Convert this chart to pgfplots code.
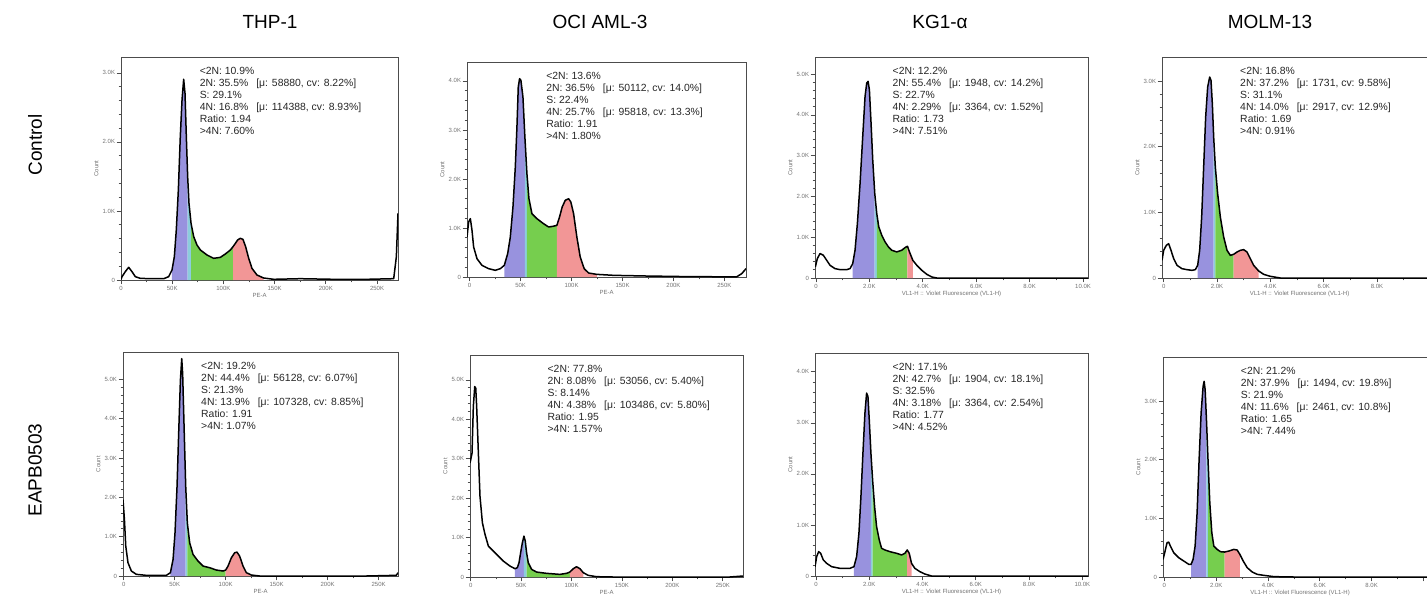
\documentclass[border=0pt]{standalone}
\usepackage{fontspec}
\setmainfont{Liberation Sans}
\usepackage{pgfplots}
\usepackage{pgfplotstable}
\pgfplotsset{compat=1.18}

\definecolor{gone}{RGB}{152,146,222}
\definecolor{sph}{RGB}{118,206,78}
\definecolor{gtwo}{RGB}{242,150,150}
\definecolor{ovl}{RGB}{140,205,220}

% histograms (x in PE-A / VL1-H units, y in counts)
\pgfplotstableread{
x y
0 10
1 48
4.2 121
7.5 184
10.7 121
14 48
18.9 24
28.6 19
41.7 19
46.5 48
49.8 145
52.1 338
54 725
56 1304
57.9 2077
59.6 2608
61.2 2908
62.5 2705
63.8 2077
65.1 1497
66.4 1111
68.4 821
71 628
74.2 507
77.5 435
84 362
90.5 314
97 328
101.9 377
106.8 435
109.4 483
111.7 531
113.9 580
116.5 604
119.1 589
121.7 483
124.7 314
127.9 169
132.8 72
139.3 29
149.1 10
175.1 19
207.7 10
240.2 10
266.3 19
268.9 338
270.5 966
}\thpc

\pgfplotstableread{
x y
-2.6 816
-1 1122
0.7 1190
2.3 952
3.9 612
7.2 374
12.1 238
18.6 170
25.2 136
30.1 170
34 238
37.3 476
39.9 816
42.5 1428
44.8 2244
46.4 3060
47.7 3876
49 4046
50.3 4012
52.3 3672
54.2 2856
56.2 2108
58.2 1598
61.1 1292
66 1190
72.5 1088
77.5 1020
81.7 1034
85.6 1054
88.2 1224
90.8 1428
93.8 1564
97.1 1598
99.3 1530
102 1292
105.2 816
108.5 408
112.4 170
116.7 82
124.8 54
141.2 34
173.9 20
206.5 10
239.2 5
262.1 5
267 68
271.2 170
}\ocic

\pgfplotstableread{
x y
-25 271
50 476
150 599
275 558
400 435
525 312
712 230
900 205
1150 205
1275 230
1375 353
1462 681
1550 1337
1650 2321
1750 3469
1837 4453
1900 4781
1950 4822
2000 4617
2062 3797
2125 2895
2200 2075
2275 1583
2350 1255
2462 1050
2587 886
2712 763
2837 681
3025 640
3212 681
3337 746
3425 779
3500 640
3625 435
3775 312
3962 189
4150 90
4337 25
4525 0
5275 0
6525 0
7775 0
10187 0
}\kgc

\pgfplotstableread{
x y
-62 269
0 422
100 498
187 523
275 422
375 295
500 193
687 142
875 127
1062 117
1187 127
1275 193
1350 422
1425 930
1500 1692
1575 2454
1650 2911
1725 3063
1775 3012
1825 2657
1875 2149
1937 1692
2025 1285
2125 930
2250 625
2375 422
2500 345
2625 361
2750 396
2875 422
3000 432
3125 396
3250 295
3375 193
3562 107
3750 56
4000 25
4375 0
5875 0
8375 0
10250 0
}\molc

\pgfplotstableread{
x y
-0.7 1941
0.7 1435
2 760
4.2 338
7.5 127
12.4 42
22.2 17
41.8 17
45.8 84
48.4 422
50.3 1097
52.3 2279
53.9 3629
55.6 4980
56.9 5528
57.8 5148
59.2 3798
60.8 2279
62.4 1350
64.7 844
68 549
72.9 380
77.8 253
84.3 211
90.8 152
97.4 127
100 152
102.3 253
105.6 464
108.8 591
111.1 608
113.7 506
117 253
120.3 84
125.2 25
133.3 0
172.5 0
237.9 0
267.3 17
269 84
}\thpe

\pgfplotstableread{
x y
-0.7 2892
0 2976
1.3 3144
2.6 4325
4 4830
5 4788
5.9 4325
7.6 3144
9.2 2048
11.6 1374
14.2 1079
17.5 784
20.8 700
25.7 573
32.3 405
38.9 278
43.9 211
46.2 236
47.9 362
49.5 615
51.2 868
52.8 1037
54.1 910
55.4 615
57.1 362
60.4 194
65.3 126
75.2 93
88.4 67
95 93
98.3 126
101.7 211
104.9 261
108.3 211
111.6 110
116.5 42
124.8 8
141.3 0
190.8 0
256.8 0
270 25
}\ocie

\pgfplotstableread{
x y
-37 183
25 379
100 477
175 445
275 314
400 248
587 183
900 150
1275 150
1425 183
1525 379
1612 837
1687 1557
1762 2407
1837 3192
1900 3584
1950 3519
2000 3061
2062 2407
2125 1884
2200 1360
2275 968
2375 706
2462 543
2587 510
2775 477
3025 445
3212 412
3337 445
3425 510
3500 445
3587 248
3712 150
3900 85
4087 39
4337 0
5275 0
7775 0
10212 0
}\kge

\pgfplotstableread{
x y
-52 301
13 415
103 585
168 596
232 528
361 415
555 329
748 273
942 216
1032 216
1109 301
1187 528
1264 1096
1342 2005
1419 2800
1496 3255
1535 3340
1574 3198
1625 2687
1690 1948
1754 1267
1832 755
1909 528
2038 471
2167 432
2322 426
2490 443
2683 471
2812 460
2915 386
3044 273
3199 159
3393 85
3586 45
3844 28
4231 6
5005 0
7327 0
10526 0
}\mole

\pgfplotsset{
  hist/.style={
    scale only axis, anchor=south west,
    ymin=0,
    scaled x ticks=false, scaled y ticks=false,
    tick align=outside,
    xtick pos=left, ytick pos=left,
    major tick length=2.2pt, minor tick length=1.2pt,
    minor y tick num=4, minor x tick num=1,
    tick style={black!70, line width=0.35pt},
    axis line style={black!70, line width=0.45pt},
    tick label style={font=\fontsize{3}{3.5}\selectfont, text=black!55, inner sep=0.6pt},
    /pgf/number format/assume math mode=true,
    xlabel style={font=\fontsize{3}{3.5}\selectfont, text=black!55, inner sep=0.6pt},
    ylabel style={font=\fontsize{3}{3.5}\selectfont, text=black!55, yshift=-2pt},
    ylabel={Count},
  },
  pe/.style={xtick={0,50,100,150,200,250},
    xticklabels={0,50K,100K,150K,200K,250K}, xlabel={PE-A}},
  vl/.style={xtick={0,2000,4000,6000,8000,10000},
    xticklabels={0,2.0K,4.0K,6.0K,8.0K,10.0K},
    xlabel={VL1-H :: Violet Fluorescence (VL1-H)}},
  vlcut/.style={vl, xticklabels={0,2.0K,4.0K,6.0K,8.0K,}},
  curve/.style={black, line width=0.75pt, line join=round},
}
\tikzset{
  stats/.style={anchor=north west, inner sep=0pt, align=left,
    text=black!85, font=\fontsize{5.2}{6}\selectfont},
  rowlab/.style={font=\fontsize{9.5}{11}\selectfont},
}

% #1 table, #2..#5 x ranges of 2N, overlap, S and 4N fills
\newcommand{\phases}[5]{%
  \addplot[fill=gone, draw=none, restrict x to domain=#2] table {#1} \closedcycle;
  \addplot[fill=ovl, draw=none, restrict x to domain=#3] table {#1} \closedcycle;
  \addplot[fill=sph, draw=none, restrict x to domain=#4] table {#1} \closedcycle;
  \addplot[fill=gtwo, draw=none, restrict x to domain=#5] table {#1} \closedcycle;
  \addplot[curve] table {#1};
}

\begin{document}
\begin{tikzpicture}
\useasboundingbox (0,0) rectangle (713.5pt,300.5pt);

\node[rowlab] at (135pt,289.5pt) {THP-1};
\node[rowlab] at (300pt,289.5pt) {OCI AML-3};
\node[rowlab] at (470pt,289.5pt) {KG1-α};
\node[rowlab] at (635pt,289.5pt) {MOLM-13};
\node[rowlab, rotate=90] at (17.5pt,228pt) {Control};
\node[rowlab, rotate=90] at (17.5pt,65.5pt) {EAPB0503};

% ---------- Control row ----------
\begin{axis}[hist, pe, at={(60.5pt,160.5pt)}, width=138.5pt, height=111.5pt,
  xmin=0, xmax=270.5, ymax=3230,
  ytick={0,1000,2000,3000}, yticklabels={0,1.0K,2.0K,3.0K}]
\phases{\thpc}{49.7:65.15}{65.05:68.45}{68.35:109.45}{109.35:139.35}
\node[stats] at (rel axis cs:0.283,0.955) {<2N: 10.9\%\\2N: 35.5\%\hspace{4pt}[μ: 58880, cv: 8.22\%]\\S: 29.1\%\\4N: 16.8\%\hspace{4pt}[μ: 114388, cv: 8.93\%]\\Ratio: 1.94\\>4N: 7.60\%};
\end{axis}

\begin{axis}[hist, pe, at={(233.5pt,162pt)}, width=139.5pt, height=107.5pt,
  xmin=-2.6, xmax=271.2, ymax=4386,
  ytick={0,1000,2000,3000,4000}, yticklabels={0,1.0K,2.0K,3.0K,4.0K}]
\phases{\ocic}{33.9:54.25}{54.15:56.25}{56.15:85.65}{85.55:124.85}
\node[stats] at (rel axis cs:0.283,0.955) {<2N: 13.6\%\\2N: 36.5\%\hspace{4pt}[μ: 50112, cv: 14.0\%]\\S: 22.4\%\\4N: 25.7\%\hspace{4pt}[μ: 95818, cv: 13.3\%]\\Ratio: 1.91\\>4N: 1.80\%};
\end{axis}

\begin{axis}[hist, vl, at={(407.5pt,161.5pt)}, width=136.5pt, height=110.5pt,
  xmin=-37, xmax=10187, ymax=5420,
  ytick={0,1000,2000,3000,4000,5000}, yticklabels={0,1.0K,2.0K,3.0K,4.0K,5.0K}]
\phases{\kgc}{1374:2201}{2199:2276}{2274:3426}{3424:3626}
\node[stats] at (rel axis cs:0.283,0.955) {<2N: 12.2\%\\2N: 55.4\%\hspace{4pt}[μ: 1948, cv: 14.2\%]\\S: 22.7\%\\4N: 2.29\%\hspace{4pt}[μ: 3364, cv: 1.52\%]\\Ratio: 1.73\\>4N: 7.51\%};
\end{axis}

\begin{axis}[hist, vlcut, at={(581pt,161.5pt)}, width=137.5pt, height=110.5pt,
  xmin=-62, xmax=10250, ymax=3368,
  ytick={0,1000,2000,3000}, yticklabels={0,1.0K,2.0K,3.0K}]
\phases{\molc}{1274:1876}{1874:1938}{1936:2626}{2624:3563}
\node[stats] at (rel axis cs:0.283,0.955) {<2N: 16.8\%\\2N: 37.2\%\hspace{4pt}[μ: 1731, cv: 9.58\%]\\S: 31.1\%\\4N: 14.0\%\hspace{4pt}[μ: 2917, cv: 12.9\%]\\Ratio: 1.69\\>4N: 0.91\%};
\end{axis}

% ---------- EAPB0503 row ----------
\begin{axis}[hist, pe, at={(61.5pt,12.5pt)}, width=137.5pt, height=112pt,
  xmin=-0.7, xmax=269, ymax=5697,
  ytick={0,1000,2000,3000,4000,5000}, yticklabels={0,1.0K,2.0K,3.0K,4.0K,5.0K}]
\phases{\thpe}{45.75:60.85}{60.75:62.45}{62.35:100.05}{99.95:125.25}
\node[stats] at (rel axis cs:0.283,0.955) {<2N: 19.2\%\\2N: 44.4\%\hspace{4pt}[μ: 56128, cv: 6.07\%]\\S: 21.3\%\\4N: 13.9\%\hspace{4pt}[μ: 107328, cv: 8.85\%]\\Ratio: 1.91\\>4N: 1.07\%};
\end{axis}

\begin{axis}[hist, pe, at={(235pt,12pt)}, width=136.5pt, height=111pt,
  xmin=-0.7, xmax=270, ymax=5631,
  ytick={0,1000,2000,3000,4000,5000}, yticklabels={0,1.0K,2.0K,3.0K,4.0K,5.0K}]
\phases{\ocie}{43.85:52.85}{52.75:55.45}{55.35:98.35}{98.25:111.65}
\node[stats] at (rel axis cs:0.283,0.955) {<2N: 77.8\%\\2N: 8.08\%\hspace{4pt}[μ: 53056, cv: 5.40\%]\\S: 8.14\%\\4N: 4.38\%\hspace{4pt}[μ: 103486, cv: 5.80\%]\\Ratio: 1.95\\>4N: 1.57\%};
\end{axis}

\begin{axis}[hist, vl, at={(407.5pt,12.5pt)}, width=136.5pt, height=111.5pt,
  xmin=-37, xmax=10212, ymax=4369,
  ytick={0,1000,2000,3000,4000}, yticklabels={0,1.0K,2.0K,3.0K,4.0K}]
\phases{\kge}{1424:2063}{2061:2126}{2124:3426}{3424:3588}
\node[stats] at (rel axis cs:0.283,0.955) {<2N: 17.1\%\\2N: 42.7\%\hspace{4pt}[μ: 1904, cv: 18.1\%]\\S: 32.5\%\\4N: 3.18\%\hspace{4pt}[μ: 3364, cv: 2.54\%]\\Ratio: 1.77\\>4N: 4.52\%};
\end{axis}

\begin{axis}[hist, vlcut, at={(581.5pt,12pt)}, width=137pt, height=110pt,
  xmin=-52, xmax=10526, ymax=3754,
  ytick={0,1000,2000,3000}, yticklabels={0,1.0K,2.0K,3.0K}]
\phases{\mole}{1031:1626}{1624:1691}{1689:2323}{2321:2916}
\node[stats] at (rel axis cs:0.283,0.955) {<2N: 21.2\%\\2N: 37.9\%\hspace{4pt}[μ: 1494, cv: 19.8\%]\\S: 21.9\%\\4N: 11.6\%\hspace{4pt}[μ: 2461, cv: 10.8\%]\\Ratio: 1.65\\>4N: 7.44\%};
\end{axis}
\end{tikzpicture}
\end{document}
